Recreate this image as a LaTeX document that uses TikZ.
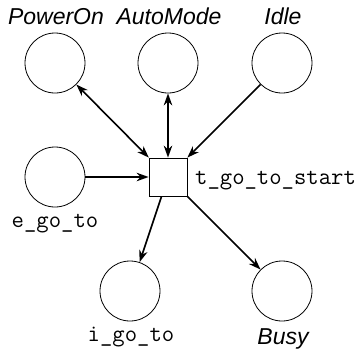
\documentclass[tikz,border=0pt]{standalone}
\usepackage{fontspec}
\newfontfamily\helv{Liberation Sans}
\usetikzlibrary{arrows.meta}
\tikzset{
  place/.style={circle,draw,line width=0.8pt,minimum size=60pt,inner sep=0pt},
  trans/.style={rectangle,draw,line width=0.8pt,minimum size=38pt,inner sep=0pt},
  arc/.style={line width=1.6pt,-{Stealth[length=12pt,width=8.5pt]}},
  biarc/.style={line width=1.6pt,{Stealth[length=12pt,width=8.5pt]}-{Stealth[length=12pt,width=8.5pt]}},
  sflbl/.style={font=\helv\itshape\fontsize{23}{27}\selectfont,inner sep=0pt,anchor=base},
  ttlbl/.style={font=\ttfamily\fontsize{24}{28}\selectfont,inner sep=0pt,anchor=base},
}
\begin{document}
\begin{tikzpicture}[x=1pt,y=-1pt]
	    \useasboundingbox (0,0) rectangle (360,349);
	    % places and transition
	    \node[place] (PowerOn) at (55,63) {};
	    \node[place] (AutoMode) at (168,63) {};
	    \node[place] (Idle) at (282,63) {};
	    \node[place] (egoto) at (55,177) {};
	    \node[trans] (tstart) at (168,177) {};
	    \node[place] (igoto) at (130,291) {};
	    \node[place] (Busy) at (282,291) {};
	    % names
	    \node[sflbl] (PowerOnName) at (56,24) {PowerOn};
	    \node[sflbl] (AutoModeName) at (169,24) {AutoMode};
	    \node[sflbl] (IdleName) at (283,24) {Idle};
	    \node[sflbl] (BusyName) at (283,344) {Busy};
	    \node[ttlbl] (egotoName) at (55,227) {e\_go\_to};
	    \node[ttlbl] (igotoName) at (131,341) {i\_go\_to};
	    \node[ttlbl,anchor=base west] (tstartName) at (195,184) {t\_go\_to\_start};
	    % arcs
	    \draw[biarc] (PowerOn)--(tstart);
	    \draw[biarc] (AutoMode)--(tstart);
	    \draw[arc] (Idle)--(tstart);
	    \draw[arc] (egoto)--(tstart);
	    \draw[arc] (tstart)--(igoto);
	    \draw[arc] (tstart)--(Busy);
	\end{tikzpicture}
\end{document}
